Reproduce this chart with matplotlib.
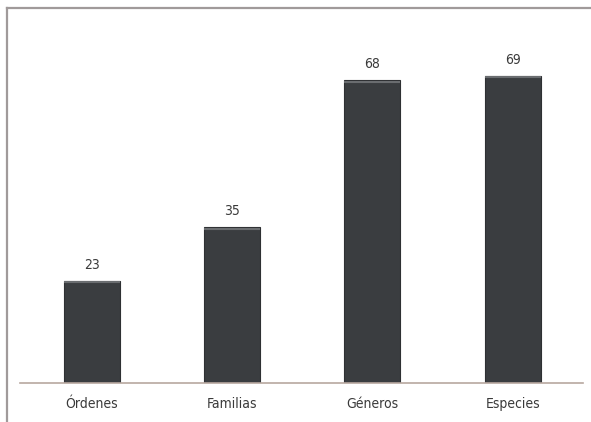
import matplotlib.pyplot as plt
from matplotlib.lines import Line2D

# data
categories = ["Órdenes", "Familias", "Géneros", "Especies"]
values = [23, 35, 68, 69]

plt.rcParams['font.family'] = ['DejaVu Sans']
plt.rcParams['font.stretch'] = 'condensed'

fig = plt.figure(figsize=(5.91, 4.22), dpi=100)
fig.patch.set_facecolor("white")
ax = fig.add_axes([0.034, 0.0924, 0.952, 0.8602])

x = list(range(len(categories)))
bars = ax.bar(x, values, width=0.40, color="#3a3d40", edgecolor="#2e3033", linewidth=0.8)

# light highlight line on top of each bar
for b in bars:
    ax.plot([b.get_x(), b.get_x() + b.get_width()], [b.get_height() - 0.4] * 2,
            color="#6a6d70", linewidth=1.5, solid_capstyle="butt")

for xi, v in zip(x, values):
    ax.text(xi, v + 2.0, str(v), ha="center", va="bottom", fontsize=10,
            color="#3a3a3a", fontstretch="condensed")

ax.set_xlim(-0.513, 3.5)
ax.set_ylim(0, 81.5)
ax.set_xticks(x)
ax.set_xticklabels(categories, fontsize=10, color="#3a3a3a", fontstretch="condensed")
ax.tick_params(axis="x", length=0, pad=10)
ax.set_yticks([])
for s in ["top", "right", "left"]:
    ax.spines[s].set_visible(False)
ax.spines["bottom"].set_color("#b8a8a0")
ax.spines["bottom"].set_linewidth(1.2)

# outer frame (left and top edges)
fig.add_artist(Line2D([7 / 591, 7 / 591], [0, 1 - 8 / 422], transform=fig.transFigure,
                      color="#a09a9a", linewidth=1.6))
fig.add_artist(Line2D([7 / 591, 1], [1 - 8 / 422, 1 - 8 / 422], transform=fig.transFigure,
                      color="#a09a9a", linewidth=1.6))

fig.savefig("out.png", dpi=100)
